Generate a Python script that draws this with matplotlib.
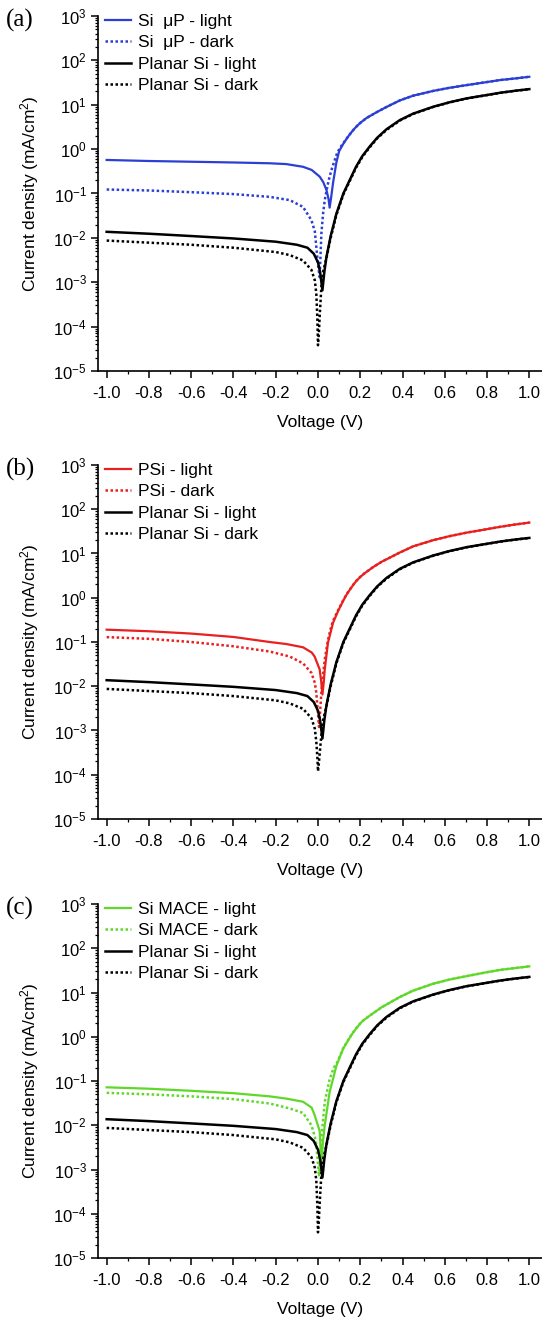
import numpy as np
import matplotlib.pyplot as plt
from matplotlib.ticker import FixedLocator, LogLocator, MultipleLocator, NullFormatter, FuncFormatter

plt.rcParams['font.family'] = ['Liberation Sans', 'DejaVu Sans']
plt.rcParams['mathtext.fontset'] = 'custom'
plt.rcParams['mathtext.rm'] = 'Liberation Sans'
plt.rcParams['mathtext.it'] = 'Liberation Sans:italic'
plt.rcParams['mathtext.bf'] = 'Liberation Sans:bold'
plt.rcParams['axes.unicode_minus'] = False

# Planar Si reference curves (shared by all three panels)
planar_light_V = [-1.0, -0.8, -0.6, -0.4, -0.2, -0.1, -0.05, -0.02, 0.0, 0.01, 0.021, 0.03, 0.04,
                  0.06, 0.087, 0.12, 0.15, 0.18, 0.21, 0.245, 0.28, 0.324, 0.387, 0.45, 0.545,
                  0.62, 0.703, 0.8, 0.861, 0.93, 1.0]
planar_light_J = [0.0137, 0.0124, 0.0110, 0.0097, 0.0082, 0.0070, 0.0060, 0.0044, 0.0028, 0.0017,
                  0.00066, 0.0017, 0.0037, 0.011, 0.035, 0.10, 0.20, 0.40, 0.70, 1.15, 1.8, 2.8,
                  4.5, 6.3, 9.0, 11.3, 13.9, 16.6, 18.6, 20.6, 22.5]

planar_dark_V = [-1.0, -0.8, -0.6, -0.4, -0.2, -0.134, -0.071, -0.031, -0.015, -0.008, -0.003,
                 0.0, 0.004, 0.008, 0.016, 0.025, 0.04, 0.06, 0.087, 0.12, 0.15, 0.18, 0.21,
                 0.245, 0.28, 0.324, 0.387, 0.45, 0.545, 0.62, 0.703, 0.8, 0.861, 0.93, 1.0]
planar_dark_J = [0.0087, 0.0078, 0.0070, 0.0060, 0.0048, 0.0041, 0.0031, 0.0019, 0.0011, 0.00056,
                 0.00015, 0.000038, 0.00007, 0.00017, 0.00079, 0.0018, 0.0035, 0.010, 0.033,
                 0.095, 0.19, 0.38, 0.67, 1.1, 1.75, 2.7, 4.4, 6.2, 8.9, 11.2, 13.8, 16.5, 18.5,
                 20.5, 22.4]
planar_dark_J_b = [0.0087, 0.0078, 0.0070, 0.0060, 0.0048, 0.0041, 0.0031, 0.0019, 0.0011, 0.00056,
                   0.00025, 0.00012, 0.00018, 0.00030, 0.00079, 0.0018, 0.0035, 0.010, 0.033,
                   0.095, 0.19, 0.38, 0.67, 1.1, 1.75, 2.7, 4.4, 6.2, 8.9, 11.2, 13.8, 16.5, 18.5,
                   20.5, 22.4]

# (a) Si micro-pillars
up_light_V = [-1.0, -0.8, -0.6, -0.4, -0.229, -0.15, -0.071, -0.03, 0.008, 0.025, 0.04, 0.05,
              0.055, 0.062, 0.071, 0.087, 0.1, 0.119, 0.135, 0.15, 0.165, 0.18, 0.2, 0.229, 0.28,
              0.324, 0.387, 0.45, 0.545, 0.62, 0.703, 0.8, 0.861, 0.93, 1.0]
up_light_J = [0.57, 0.54, 0.52, 0.50, 0.48, 0.46, 0.40, 0.34, 0.24, 0.18, 0.12, 0.075, 0.048,
              0.08, 0.17, 0.5, 0.9, 1.3, 1.7, 2.14, 2.63, 3.16, 3.9, 5.0, 6.9, 8.9, 12.5, 16.0,
              20.5, 24.0, 27.7, 32.5, 36.0, 39.0, 42.7]
up_dark_V = [-1.0, -0.8, -0.6, -0.4, -0.229, -0.134, -0.071, -0.031, -0.015, -0.008, 0.0, 0.008,
             0.016, 0.024, 0.032, 0.045, 0.055, 0.067, 0.079, 0.09, 0.103, 0.119, 0.135, 0.15,
             0.165, 0.18, 0.2, 0.229, 0.28, 0.324, 0.387, 0.45, 0.545, 0.62, 0.703, 0.8, 0.861,
             0.93, 1.0]
up_dark_J = [0.123, 0.117, 0.107, 0.097, 0.084, 0.071, 0.05, 0.025, 0.014, 0.0063, 0.0025, 0.0013,
             0.0125, 0.035, 0.071, 0.15, 0.24, 0.38, 0.56, 0.8, 1.05, 1.35, 1.72, 2.14, 2.63,
             3.16, 3.9, 5.0, 6.9, 8.9, 12.5, 16.0, 20.5, 24.0, 27.7, 32.5, 36.0, 39.0, 42.7]

# (b) porous Si
psi_light_V = [-1.0, -0.8, -0.6, -0.4, -0.229, -0.15, -0.071, -0.03, -0.016, 0.008, 0.015, 0.021,
               0.027, 0.032, 0.047, 0.071, 0.095, 0.119, 0.135, 0.15, 0.165, 0.18, 0.2, 0.22,
               0.26, 0.3, 0.387, 0.45, 0.545, 0.62, 0.703, 0.8, 0.861, 0.93, 1.0]
psi_light_J = [0.19, 0.175, 0.155, 0.13, 0.10, 0.09, 0.076, 0.058, 0.047, 0.024, 0.013, 0.0065,
               0.012, 0.024, 0.095, 0.27, 0.5, 0.85, 1.17, 1.5, 1.9, 2.35, 2.95, 3.55, 4.9, 6.45,
               10.5, 14.5, 20.0, 24.5, 29.6, 35.5, 40.0, 45.0, 50.0]
psi_dark_V = [-1.0, -0.8, -0.6, -0.4, -0.229, -0.134, -0.071, -0.031, -0.015, -0.008, 0.005,
              0.016, 0.024, 0.032, 0.047, 0.06, 0.071, 0.095, 0.119, 0.135, 0.15, 0.165, 0.18,
              0.2, 0.22, 0.26, 0.3, 0.387, 0.45, 0.545, 0.62, 0.703, 0.8, 0.861, 0.93, 1.0]
psi_dark_J = [0.129, 0.118, 0.100, 0.080, 0.061, 0.047, 0.033, 0.020, 0.012, 0.0071, 0.0012,
              0.0071, 0.018, 0.04, 0.11, 0.2, 0.3, 0.52, 0.87, 1.19, 1.52, 1.92, 2.37, 2.97, 3.57,
              4.9, 6.45, 10.5, 14.5, 20.0, 24.5, 29.6, 35.5, 40.0, 45.0, 50.0]

# (c) Si MACE
mace_light_V = [-1.0, -0.8, -0.6, -0.4, -0.229, -0.15, -0.071, -0.03, -0.016, 0.008, 0.016,
                0.024, 0.032, 0.055, 0.087, 0.12, 0.135, 0.15, 0.165, 0.18, 0.2, 0.21, 0.245,
                0.3, 0.387, 0.45, 0.545, 0.62, 0.703, 0.8, 0.861, 0.93, 1.0]
mace_light_J = [0.072, 0.067, 0.060, 0.053, 0.045, 0.040, 0.034, 0.025, 0.017, 0.0074, 0.0014,
                0.0045, 0.010, 0.056, 0.22, 0.55, 0.72, 0.95, 1.22, 1.52, 2.0, 2.25, 3.0, 4.6,
                7.9, 11.0, 15.8, 19.5, 23.4, 28.8, 32.4, 35.5, 39.0]
mace_dark_V = [-1.0, -0.8, -0.6, -0.4, -0.229, -0.134, -0.071, -0.031, -0.015, -0.008, 0.005,
               0.016, 0.032, 0.055, 0.075, 0.09, 0.12, 0.135, 0.15, 0.165, 0.18, 0.2, 0.21,
               0.245, 0.3, 0.387, 0.45, 0.545, 0.62, 0.703, 0.8, 0.861, 0.93, 1.0]
mace_dark_J = [0.054, 0.050, 0.045, 0.039, 0.031, 0.024, 0.019, 0.010, 0.0055, 0.0037, 0.0007,
               0.0052, 0.034, 0.11, 0.2, 0.26, 0.56, 0.73, 0.96, 1.23, 1.53, 2.0, 2.25, 3.0, 4.6,
               7.9, 11.0, 15.8, 19.5, 23.4, 28.8, 32.4, 35.5, 39.0]

panels = [
    ('(a)', '#2b3fd4', 'Si  \u03bcP', up_light_V, up_light_J, up_dark_V, up_dark_J, planar_dark_J),
    ('(b)', '#e8201f', 'PSi', psi_light_V, psi_light_J, psi_dark_V, psi_dark_J, planar_dark_J_b),
    ('(c)', '#5fd82a', 'Si MACE', mace_light_V, mace_light_J, mace_dark_V, mace_dark_J, planar_dark_J),
]

W, H = 542, 1327
fig = plt.figure(figsize=(W / 100, H / 100), dpi=100)

# axes boxes in pixels: (top, bottom)
boxes = [(16, 371), (465, 819), (904, 1258)]
left_px = 98
dots = (0, (1, 1))

for (tag, col, name, lv, lj, dv, dj, pdj), (top, bot) in zip(panels, boxes):
    ax = fig.add_axes([left_px / W, 1 - bot / H, (W - left_px) / W, (bot - top) / H])
    ax.plot(lv, lj, color=col, lw=1.6, label=f'{name} - light')
    ax.plot(dv, dj, color=col, lw=1.8, ls=dots, label=f'{name} - dark')
    ax.plot(planar_light_V, planar_light_J, color='black', lw=1.8, label='Planar Si - light')
    ax.plot(planar_dark_V, pdj, color='black', lw=1.8, ls=dots, label='Planar Si - dark')

    ax.set_yscale('log')
    ax.set_ylim(1e-5, 1e3)
    ax.set_xlim(-1.041, 1.06)
    ax.yaxis.set_major_locator(FixedLocator([10.0 ** k for k in range(-5, 4)]))
    ax.yaxis.set_major_formatter(FuncFormatter(lambda v, _: f'$10^{{{int(round(np.log10(v)))}}}$'))
    ax.yaxis.set_minor_locator(LogLocator(base=10, subs=np.arange(2, 10), numticks=20))
    ax.yaxis.set_minor_formatter(NullFormatter())
    ax.xaxis.set_major_locator(MultipleLocator(0.2))
    ax.xaxis.set_minor_locator(MultipleLocator(0.1))
    ax.xaxis.set_major_formatter(FuncFormatter(lambda v, _: f'{v:.1f}' if abs(v) > 1e-9 else '0.0'))

    for s in ('top', 'right'):
        ax.spines[s].set_visible(False)
    for s in ('left', 'bottom'):
        ax.spines[s].set_linewidth(1.2)
    ax.tick_params(which='major', direction='out', length=5, width=1.1, labelsize=12, pad=3)
    ax.tick_params(which='minor', direction='out', length=2.5, width=0.9)
    ax.tick_params(axis='x', which='major', pad=6)

    ax.set_xlabel('Voltage (V)', fontsize=12.5, labelpad=10)
    ax.set_ylabel('Current density (mA/cm$^2$)', fontsize=12.5)
    ax.yaxis.set_label_coords(-0.128, 0.5)

    ax.legend(loc='upper left', bbox_to_anchor=(0.0, 1.025), frameon=False, fontsize=12.5,
              handlelength=1.5, handletextpad=0.4, labelspacing=0.35, borderpad=0.2,
              borderaxespad=0.2)

    fig.text(6 / W, 1 - (top + 4) / H, tag, family='Liberation Serif', fontsize=18, va='center',
             ha='left')

fig.savefig('out.png', dpi=100)
